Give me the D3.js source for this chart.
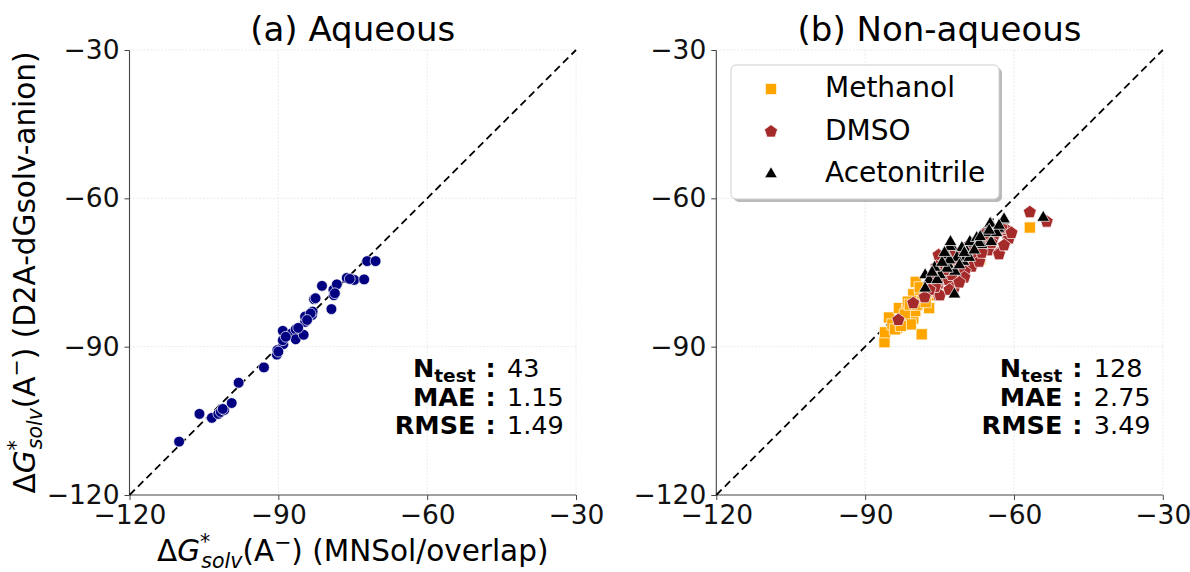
<!DOCTYPE html>
<html>
<head>
<meta charset="utf-8">
<script src="https://cdn.jsdelivr.net/npm/d3@7"></script>
<style>
  body { margin: 0; background: #fff; }
  svg { font-family: "DejaVu Sans", sans-serif; }
</style>
</head>
<body>
<svg id="chart" width="1190" height="572"></svg>
<script>
// values
const ticks = [-120, -90, -60, -30]

const aqueous = [
    [-110.0, -109.2], [-105.9, -103.6], [-103.4, -104.4], [-102.1, -103.6], [-101.6, -103.2],
    [-100.9, -102.8], [-99.4, -101.4], [-98.0, -97.3], [-92.9, -94.2], [-90.3, -91.6],
    [-90.2, -90.7], [-89.0, -89.5], [-89.1, -88.7], [-89.1, -86.8], [-87.3, -87.3],
    [-86.5, -86.5], [-86.5, -88.5], [-84.9, -87.6], [-84.6, -85.0], [-84.6, -83.9],
    [-83.2, -83.6], [-83.1, -82.9], [-82.8, -80.4], [-82.5, -80.2], [-81.2, -77.7],
    [-79.3, -82.4], [-78.8, -79.6], [-78.9, -78.5], [-78.2, -77.4], [-76.2, -76.1],
    [-75.0, -76.4], [-74.7, -76.5], [-72.7, -76.4], [-72.1, -72.7], [-70.4, -72.7],
    [-90.0, -91.0], [-88.5, -88.0], [-86.0, -86.2], [-83.5, -83.3], [-101.2, -102.6],
    [-78.6, -79.2], [-84.2, -84.6], [-75.6, -76.3]
]

const methanol = [
    [-86.1, -89.1], [-86.0, -87.1], [-85.2, -84.1], [-83.6, -86.2], [-83.2, -82.2],
    [-82.6, -84.6], [-81.6, -82.6], [-80.3, -84.3], [-79.9, -82.8], [-80.3, -79.4],
    [-79.8, -76.9], [-78.6, -87.5], [-78.5, -80.9], [-77.1, -82.2], [-76.7, -79.6],
    [-78.9, -78.5], [-81.4, -80.9], [-84.5, -85.5], [-82.0, -83.5], [-81.0, -81.5],
    [-80.8, -85.5], [-79.5, -81.5], [-79.0, -78.0], [-77.5, -79.0], [-76.0, -77.5],
    [-75.5, -78.0], [-74.0, -76.0], [-73.5, -74.5], [-71.2, -76.5], [-70.5, -75.0],
    [-69.0, -73.0], [-66.8, -72.3], [-65.5, -70.5], [-56.8, -65.9], [-84.0, -86.5],
    [-82.8, -85.8], [-77.8, -81.0], [-72.5, -74.0], [-68.0, -72.5], [-66.0, -69.5]
]

const dmso = [
    [-83.3, -84.6], [-80.3, -81.2], [-75.2, -79.6], [-75.2, -77.2], [-61.3, -67.8],
    [-63.1, -71.1], [-65.2, -70.5], [-67.2, -70.5], [-68.5, -73.8], [-69.9, -74.8],
    [-71.2, -73.1], [-75.2, -71.5], [-75.6, -73.8], [-75.2, -76.5], [-73.2, -76.5],
    [-74.9, -79.6], [-75.9, -77.9], [-56.8, -62.8], [-53.4, -64.7], [-61.0, -68.1],
    [-63.0, -71.3], [-61.5, -66.4], [-72.0, -78.0], [-77.0, -78.5], [-72.5, -75.5],
    [-70.5, -72.0], [-68.0, -71.5], [-66.0, -68.5], [-64.0, -67.5], [-62.5, -66.0],
    [-67.0, -72.8], [-70.0, -76.0], [-73.8, -72.8], [-71.8, -71.0], [-69.5, -69.8],
    [-65.8, -67.2], [-78.0, -80.0], [-76.5, -75.5], [-74.0, -74.5], [-64.5, -69.0],
    [-62.0, -69.5], [-60.5, -67.0], [-66.5, -71.0], [-71.0, -77.0], [-73.0, -78.5]
]

const acetonitrile = [
    [-64.6, -65.2], [-62.1, -64.4], [-64.6, -68.8], [-66.5, -69.4], [-68.5, -69.1],
    [-69.5, -70.8], [-72.5, -69.8], [-73.5, -71.5], [-70.2, -72.8], [-73.2, -73.5],
    [-71.9, -74.8], [-73.5, -74.2], [-77.9, -75.5], [-77.1, -76.5], [-74.9, -75.5],
    [-72.0, -79.4], [-54.1, -63.9], [-63.1, -66.1], [-68.9, -68.8], [-72.9, -69.8],
    [-77.9, -78.2], [-62.0, -64.2], [-64.8, -65.1], [-65.5, -67.0], [-67.5, -68.0],
    [-70.5, -70.0], [-71.5, -72.0], [-69.0, -72.0], [-72.8, -68.8], [-73.0, -72.5],
    [-76.0, -74.0], [-75.5, -76.5], [-70.0, -71.0], [-63.5, -67.0], [-67.0, -69.0],
    [-71.0, -73.5], [-74.5, -73.0], [-76.5, -75.0], [-68.0, -70.5], [-65.0, -66.5],
    [-66.8, -67.8], [-74.0, -71.0], [-63.0, -65.5]
]

const titles = ["(a) Aqueous", "(b) Non-aqueous"]
const statLabels = ["N", "MAE", "RMSE"]
const statsAqueous = ["43", "1.15", "1.49"]
const statsNonAqueous = ["128", "2.75", "3.49"]
const solventNames = ["Methanol", "DMSO", "Acetonitrile"]
const solventColors = ["#ffa500", "#a52a2a", "#000000"]

const svg = d3.select('#chart')
const plotW = 446.5, plotH = 445

const x = d3.scaleLinear().domain([-120, -30]).range([0, plotW])
const y = d3.scaleLinear().domain([-120, -30]).range([plotH, 0])

// pentagon marker, d3 has none built in
const symbolPentagon = {
    draw(context, size) {
        const r = Math.sqrt(size / (2.5 * Math.sin(2 * Math.PI / 5)))
        for (let i = 0; i < 5; i++) {
            const a = -Math.PI / 2 + i * 2 * Math.PI / 5
            const px = r * Math.cos(a), py = r * Math.sin(a)
            if (i === 0) context.moveTo(px, py)
            else context.lineTo(px, py)
        }
        context.closePath()
    }
}

const markers = [
    d3.symbol(d3.symbolSquare, 125),
    d3.symbol(symbolPentagon, 112),
    d3.symbol(d3.symbolTriangle, 70)
]

function drawPanel(left, title, stats) {
    const g = svg.append('g').attr('transform', `translate(${left},50)`)

    // light grid
    const grid = g.append('g')
    grid.selectAll('line.gx').data(ticks.slice(1)).enter().append('line')
        .attr('x1', d => x(d)).attr('x2', d => x(d))
        .attr('y1', 0).attr('y2', plotH)
    grid.selectAll('line.gy').data(ticks.slice(1)).enter().append('line')
        .attr('y1', d => y(d)).attr('y2', d => y(d))
        .attr('x1', 0).attr('x2', plotW)
    grid.selectAll('line')
        .attr('stroke', '#e4e4e4').attr('stroke-width', 0.8)
        .attr('stroke-dasharray', '2,1.5')

    const xAxis = g.append('g').attr('transform', `translate(0,${plotH})`)
        .call(d3.axisBottom(x).tickValues(ticks).tickSize(5).tickPadding(5))
    const yAxis = g.append('g')
        .call(d3.axisLeft(y).tickValues(ticks).tickSize(5).tickPadding(5))
    for (let ax of [xAxis, yAxis]) {
        ax.select('.domain').attr('stroke', '#444').attr('stroke-width', 1.1)
        ax.selectAll('.tick line').attr('stroke', '#444')
        ax.selectAll('.tick text')
            .attr('font-size', 26.5).attr('fill', '#111')
            .attr('font-family', '"DejaVu Sans", sans-serif')
            .text(d => d3.format('d')(d).replace('-', '\u2212'))
    }
    // tidy the outer tick stub d3 draws at the ends
    xAxis.select('.domain').attr('d', `M0.5,0H${plotW}`)
    yAxis.select('.domain').attr('d', `M0,${plotH}V0.5`)

    // diagonal y = x
    g.append('line')
        .attr('x1', x(-120)).attr('y1', y(-120))
        .attr('x2', x(-30)).attr('y2', y(-30))
        .attr('stroke', '#000').attr('stroke-width', 1.8)
        .attr('stroke-dasharray', '7.5,4.5')

    g.append('text')
        .attr('x', plotW / 2).attr('y', -9)
        .attr('text-anchor', 'middle')
        .attr('font-size', 34)
        .text(title)

    // stats text
    const st = g.append('g').attr('font-size', 25.5)
    const baseY = [326.7, 355.7, 384]
    statLabels.forEach((lab, i) => {
        const t = st.append('text')
            .attr('x', 346).attr('y', baseY[i])
            .attr('text-anchor', 'end').attr('font-weight', 'bold')
        t.append('tspan').text(lab)
        if (i === 0) {
            t.append('tspan').attr('font-size', 18.5).attr('dy', 5).text('test')
        }
        st.append('text')
            .attr('x', 356).attr('y', baseY[i])
            .attr('font-weight', 'bold').text(':')
        st.append('text')
            .attr('x', 377.5).attr('y', baseY[i])
            .text(stats[i])
    })
    return g
}

function mathLabel(sel, tail) {
    sel.append('tspan').text('\u0394')
    sel.append('tspan').attr('font-style', 'italic').text('G')
    sel.append('tspan').attr('font-size', 20.5).attr('dy', -12).text('*')
    sel.append('tspan').attr('font-size', 20.5).attr('font-style', 'italic')
        .attr('dx', -9).attr('dy', 19).text('solv')
    sel.append('tspan').attr('dy', -7).text('(A')
    sel.append('tspan').attr('font-size', 20.5).attr('dy', -12).text('\u2212')
    sel.append('tspan').attr('dy', 12).text(')')
    sel.append('tspan').text(' ' + tail)
}

// (a) aqueous
const ga = drawPanel(129.5, titles[0], statsAqueous)
ga.append('g').selectAll('circle')
    .data(aqueous)
    .enter().append('circle')
    .attr('cx', d => x(d[0]))
    .attr('cy', d => y(d[1]))
    .attr('r', 5.4)
    .attr('fill', '#000080')
    .attr('stroke', '#fff').attr('stroke-width', 0.7)

// (b) non-aqueous
const gb = drawPanel(716.3, titles[1], statsNonAqueous)
const groups = [methanol, dmso, acetonitrile]
groups.forEach((pts, i) => {
    gb.append('g').selectAll('path')
        .data(pts)
        .enter().append('path')
        .attr('transform', d => `translate(${x(d[0])},${y(d[1])})`)
        .attr('d', markers[i])
        .attr('fill', solventColors[i])
        .attr('stroke', '#fff').attr('stroke-width', 0.7)
})

// legend
const lg = svg.append('g').attr('transform', 'translate(731,65)')
lg.append('rect').attr('x', 3).attr('y', 3).attr('width', 268).attr('height', 134)
    .attr('rx', 5).attr('fill', '#8c8c8c').attr('opacity', 0.6)
lg.append('rect').attr('width', 268).attr('height', 134)
    .attr('rx', 5).attr('fill', '#fff').attr('stroke', '#cfcfcf').attr('stroke-width', 1)
solventNames.forEach((name, i) => {
    const rowY = 24 + i * 42.5
    lg.append('path')
        .attr('transform', `translate(40,${rowY})`)
        .attr('d', markers[i])
        .attr('fill', solventColors[i])
        .attr('stroke', '#fff').attr('stroke-width', 0.7)
    lg.append('text')
        .attr('x', 94).attr('y', rowY + 8)
        .attr('font-size', 28)
        .text(name)
})

// axis labels
const xl = svg.append('text')
    .attr('x', 129.5 + plotW / 2).attr('y', 561)
    .attr('text-anchor', 'middle').attr('font-size', 29.5)
mathLabel(xl, '(MNSol/overlap)')

const yl = svg.append('text')
    .attr('transform', `translate(35,${50 + plotH / 2}) rotate(-90)`)
    .attr('text-anchor', 'middle').attr('font-size', 29.5)
mathLabel(yl, '(D2A-dGsolv-anion)')
</script>
</body>
</html>
